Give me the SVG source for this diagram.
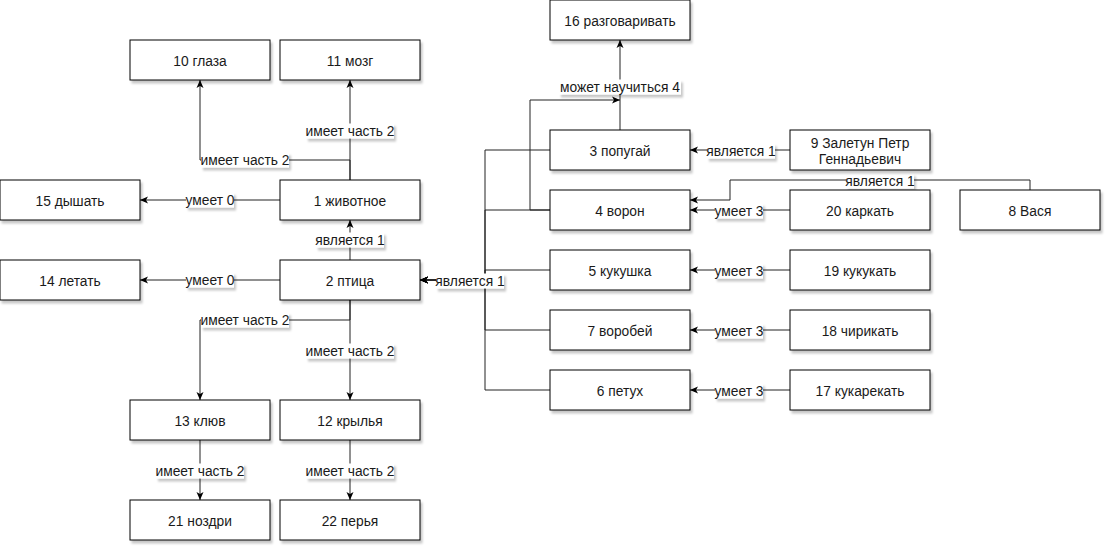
<svg xmlns="http://www.w3.org/2000/svg" width="1112" height="553" viewBox="0 0 1112 553">
<defs>
<filter id="sh" x="-10%" y="-20%" width="130%" height="160%">
<feDropShadow dx="2" dy="3" stdDeviation="1.2" flood-color="#000" flood-opacity="0.22"/>
</filter>
<marker id="arr" markerUnits="userSpaceOnUse" markerWidth="9" markerHeight="9" viewBox="0 0 9 9" refX="8" refY="4.5" orient="auto">
<path d="M0,1 L8,4.5 L0,8 L2,4.5 Z" fill="#000"/>
</marker>
<style>
.box rect{fill:#fff;stroke:#000;stroke-width:1;filter:url(#sh)}
.box text{font-family:"Liberation Sans",Arial,sans-serif;font-size:13.8px;fill:#1a1a1a;text-anchor:middle}
.edge{fill:none;stroke:#222;stroke-width:1;marker-end:url(#arr)}
.lbl rect{fill:#fff;filter:url(#sh)}
.lbl text{font-family:"Liberation Sans",Arial,sans-serif;font-size:13.8px;fill:#1a1a1a;text-anchor:middle}
</style>
</defs>
<rect width="1112" height="553" fill="#fff"/>
<g id="connectors">
<path class="edge" d="M350,180 V80"/>
<path class="edge" d="M350,180 V160 H200 V80"/>
<path class="edge" d="M280,200 H140"/>
<path class="edge" d="M350,260 V220"/>
<path class="edge" d="M280,280 H140"/>
<path class="edge" d="M350,300 V320 H200 V400"/>
<path class="edge" d="M350,300 V400"/>
<path class="edge" d="M200,440 V500"/>
<path class="edge" d="M350,440 V500"/>
<path class="edge" d="M550,150 H485 V280 H420"/>
<path class="edge" d="M550,210 H485 V280 H420"/>
<path class="edge" d="M550,270 H485 V280 H420"/>
<path class="edge" d="M550,330 H485 V280 H420"/>
<path class="edge" d="M550,390 H485 V280 H420"/>
<path class="edge" d="M620,130 V40"/>
<path class="edge" d="M550,210 H530 V100 H620"/>
<path class="edge" d="M790,150 H690"/>
<path class="edge" d="M1030,190 V180 H730 V200 H690"/>
<path class="edge" d="M790,210 H690"/>
<path class="edge" d="M790,270 H690"/>
<path class="edge" d="M790,330 H690"/>
<path class="edge" d="M790,390 H690"/>
<g class="lbl">
<rect x="306" y="123.5" width="88" height="15"/><text x="350" y="135.8">имеет часть 2</text>
<rect x="201" y="152.5" width="88" height="15"/><text x="245" y="164.8">имеет часть 2</text>
<rect x="186" y="192.5" width="48" height="15"/><text x="210" y="204.8">умеет 0</text>
<rect x="316" y="232.5" width="68" height="15"/><text x="350" y="244.8">является 1</text>
<rect x="186" y="272.5" width="48" height="15"/><text x="210" y="284.8">умеет 0</text>
<rect x="201" y="312.5" width="88" height="15"/><text x="245" y="324.8">имеет часть 2</text>
<rect x="306" y="343.5" width="88" height="15"/><text x="350" y="355.8">имеет часть 2</text>
<rect x="156" y="463.5" width="88" height="15"/><text x="200" y="475.8">имеет часть 2</text>
<rect x="306" y="463.5" width="88" height="15"/><text x="350" y="475.8">имеет часть 2</text>
<rect x="436" y="273.5" width="68" height="15"/><text x="470" y="285.8">является 1</text>
<rect x="559" y="79.5" width="122" height="15"/><text x="620" y="91.8">может научиться 4</text>
<rect x="707" y="143.5" width="68" height="15"/><text x="741" y="155.8">является 1</text>
<rect x="846" y="173.5" width="68" height="15"/><text x="880" y="185.8">является 1</text>
<rect x="715" y="203.5" width="48" height="15"/><text x="739" y="215.8">умеет 3</text>
<rect x="715" y="263.5" width="48" height="15"/><text x="739" y="275.8">умеет 3</text>
<rect x="715" y="323.5" width="48" height="15"/><text x="739" y="335.8">умеет 3</text>
<rect x="715" y="383.5" width="48" height="15"/><text x="739" y="395.8">умеет 3</text>
</g>
</g>
<g id="n16" class="box"><rect x="550" y="0" width="140" height="40"/><text x="620" y="26">16 разговаривать</text></g>
<g id="n10" class="box"><rect x="130" y="40" width="140" height="40"/><text x="200" y="66">10 глаза</text></g>
<g id="n11" class="box"><rect x="280" y="40" width="140" height="40"/><text x="350" y="66">11 мозг</text></g>
<g id="n3" class="box"><rect x="550" y="130" width="140" height="40"/><text x="620" y="156">3 попугай</text></g>
<g id="n9" class="box"><rect x="790" y="130" width="140" height="40"/><text x="860" y="148">9 Залетун Петр</text><text x="860" y="164">Геннадьевич</text></g>
<g id="n15" class="box"><rect x="0" y="180" width="140" height="40"/><text x="70" y="206">15 дышать</text></g>
<g id="n1" class="box"><rect x="280" y="180" width="140" height="40"/><text x="350" y="206">1 животное</text></g>
<g id="n4" class="box"><rect x="550" y="190" width="140" height="40"/><text x="620" y="216">4 ворон</text></g>
<g id="n20" class="box"><rect x="790" y="190" width="140" height="40"/><text x="860" y="216">20 каркать</text></g>
<g id="n8" class="box"><rect x="960" y="190" width="140" height="40"/><text x="1030" y="216">8 Вася</text></g>
<g id="n14" class="box"><rect x="0" y="260" width="140" height="40"/><text x="70" y="286">14 летать</text></g>
<g id="n2" class="box"><rect x="280" y="260" width="140" height="40"/><text x="350" y="286">2 птица</text></g>
<g id="n5" class="box"><rect x="550" y="250" width="140" height="40"/><text x="620" y="276">5 кукушка</text></g>
<g id="n19" class="box"><rect x="790" y="250" width="140" height="40"/><text x="860" y="276">19 кукукать</text></g>
<g id="n7" class="box"><rect x="550" y="310" width="140" height="40"/><text x="620" y="336">7 воробей</text></g>
<g id="n18" class="box"><rect x="790" y="310" width="140" height="40"/><text x="860" y="336">18 чирикать</text></g>
<g id="n6" class="box"><rect x="550" y="370" width="140" height="40"/><text x="620" y="396">6 петух</text></g>
<g id="n17" class="box"><rect x="790" y="370" width="140" height="40"/><text x="860" y="396">17 кукарекать</text></g>
<g id="n13" class="box"><rect x="130" y="400" width="140" height="40"/><text x="200" y="426">13 клюв</text></g>
<g id="n12" class="box"><rect x="280" y="400" width="140" height="40"/><text x="350" y="426">12 крылья</text></g>
<g id="n21" class="box"><rect x="130" y="500" width="140" height="40"/><text x="200" y="526">21 ноздри</text></g>
<g id="n22" class="box"><rect x="280" y="500" width="140" height="40"/><text x="350" y="526">22 перья</text></g>
</svg>
